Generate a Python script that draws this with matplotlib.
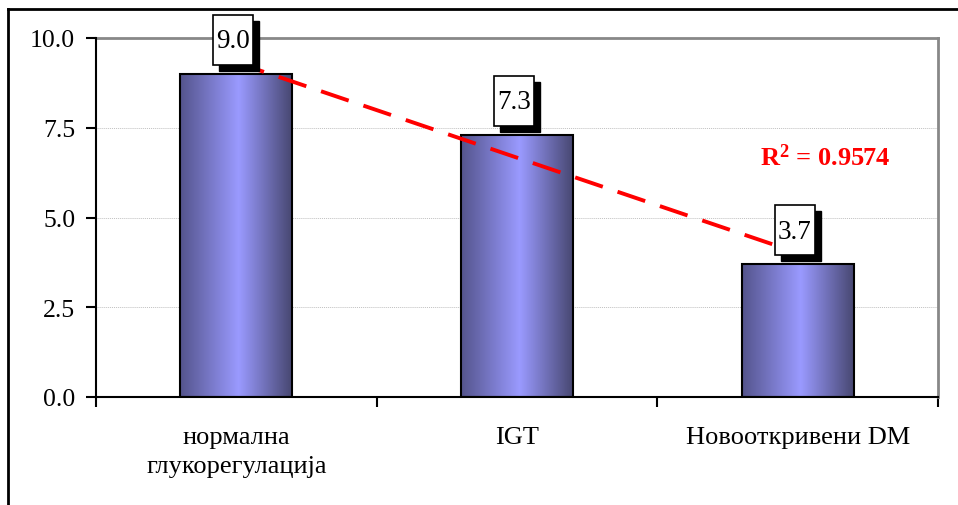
import numpy as np
import matplotlib
matplotlib.use("Agg")
import matplotlib.pyplot as plt
import matplotlib.transforms as mtransforms
from matplotlib.colors import LinearSegmentedColormap
from matplotlib.patches import Rectangle
from matplotlib.lines import Line2D

categories = ["нормална\nглукорегулација", "IGT", "Новооткривени DM"]
values = [9.0, 7.3, 3.7]
value_labels = ["9.0", "7.3", "3.7"]
r2_text = r"$\mathbf{R^2}$ = 0.9574"
yticks = [0.0, 2.5, 5.0, 7.5, 10.0]

plt.rcParams['font.family'] = ['Liberation Serif', 'DejaVu Serif']
plt.rcParams['mathtext.fontset'] = 'custom'
plt.rcParams['mathtext.rm'] = 'Liberation Serif'
plt.rcParams['mathtext.bf'] = 'Liberation Serif:bold'

fig = plt.figure(figsize=(9.58, 5.06), dpi=100)
ax = fig.add_axes([96 / 958, 1 - 398 / 506, (938 - 96) / 958, (398 - 39) / 506])

x = np.arange(len(values))
width = 0.4

# horizontal shading of the bars
cmap = LinearSegmentedColormap.from_list(
    "bar", [(0.0, "#54548c"), (0.52, "#9a9aff"), (1.0, "#46466f")])
grad = np.linspace(0, 1, 256).reshape(1, -1)
for xi, v in zip(x, values):
    ax.imshow(grad, cmap=cmap, aspect="auto", extent=(xi - width / 2, xi + width / 2, 0, v),
              zorder=2, interpolation="bilinear")
ax.bar(x, values, width=width, facecolor="none", edgecolor="black", linewidth=1.5, zorder=3)

# linear trend line
k, b = np.polyfit(x, values, 1)
ax.plot([x[0], x[-1]], [k * x[0] + b, k * x[-1] + b], color="#ff0000", lw=2.8,
        dashes=(7.5, 4), zorder=4)

ax.text(2.1, 6.7, r2_text, color="#ff0000", fontsize=19, fontweight="bold",
        ha="center", va="center", zorder=6)

# value labels in boxes with shadow
for xi, v, lab in zip(x, values, value_labels):
    tr = fig.dpi_scale_trans + mtransforms.ScaledTranslation(xi, v, ax.transData)
    ax.add_patch(Rectangle((-0.17, 0.03), 0.4, 0.5, transform=tr, facecolor="black",
                           edgecolor="black", lw=1, zorder=5, clip_on=False))
    ax.add_patch(Rectangle((-0.23, 0.09), 0.4, 0.5, transform=tr, facecolor="white",
                           edgecolor="black", lw=1.2, zorder=6, clip_on=False))
    ax.text(-0.03, 0.33, lab, transform=tr, ha="center", va="center", fontsize=19.5, zorder=7)

ax.set_xlim(-0.5, 2.5)
ax.set_ylim(0, 10)
ax.set_yticks(yticks)
ax.set_yticklabels([f"{t:.1f}" for t in yticks], fontsize=18.5)
ax.set_xticks(x)
ax.set_xticklabels(categories, fontsize=19, linespacing=1.4)
ax.set_xticks([-0.5, 0.5, 1.5, 2.5], minor=True)
ax.tick_params(axis="x", which="major", length=0, pad=21)
ax.tick_params(axis="x", which="minor", length=7, width=1.5, direction="out")
ax.tick_params(axis="y", length=7, width=1.5, direction="out", pad=8)

for yv in yticks[1:-1]:
    ax.axhline(yv, color="#c0c0c0", lw=0.7, ls=(0, (1, 1)), zorder=1)

ax.spines["left"].set_linewidth(1.5)
ax.spines["bottom"].set_linewidth(1.5)
ax.spines["left"].set_zorder(5)
ax.spines["bottom"].set_zorder(5)
ax.spines["top"].set_color("#888888")
ax.spines["right"].set_color("#888888")
ax.spines["top"].set_linewidth(2)
ax.spines["right"].set_linewidth(2)

# outer chart frame (runs off the picture on the right and bottom)
fig.add_artist(Line2D([8 / 958, 8 / 958], [0, 1 - 10 / 506], color="black", lw=2,
                      transform=fig.transFigure))
fig.add_artist(Line2D([8 / 958, 1], [1 - 10 / 506, 1 - 10 / 506], color="black", lw=2,
                      transform=fig.transFigure))

fig.savefig("out.png", dpi=100)
